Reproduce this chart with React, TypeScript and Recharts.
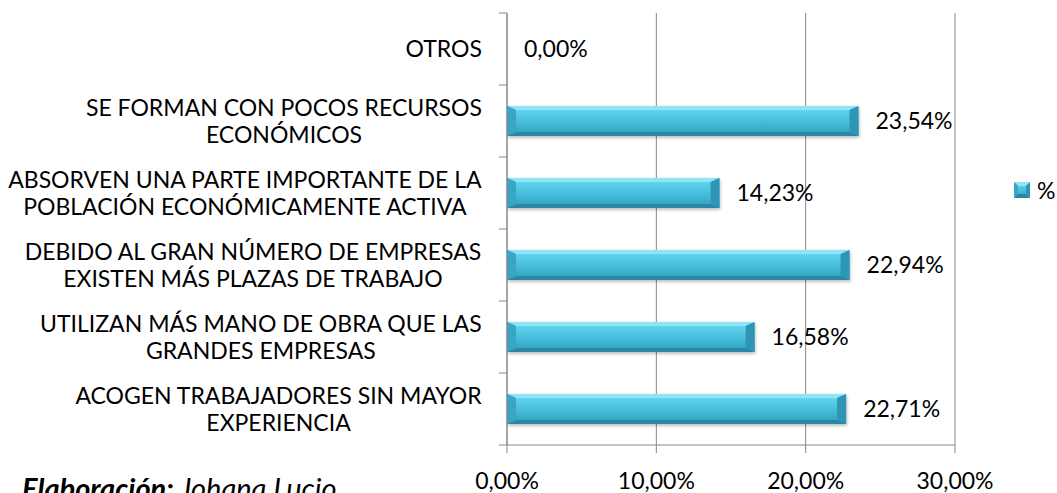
import React from "react";
import { BarChart, Bar, XAxis, YAxis, CartesianGrid, LabelList, Legend } from "recharts";

const categories = [
  "OTROS",
  "SE FORMAN CON POCOS RECURSOS\nECONÓMICOS",
  "ABSORVEN UNA PARTE IMPORTANTE DE LA\nPOBLACIÓN ECONÓMICAMENTE ACTIVA",
  "DEBIDO AL GRAN NÚMERO DE EMPRESAS\nEXISTEN MÁS PLAZAS DE TRABAJO",
  "UTILIZAN MÁS MANO DE OBRA QUE LAS\nGRANDES EMPRESAS",
  "ACOGEN TRABAJADORES SIN MAYOR\nEXPERIENCIA",
];
const values = [0, 23.54, 14.23, 22.94, 16.58, 22.71];
const xTicks = [0, 10, 20, 30];
const seriesName = "%";

const data = categories.map((c, i) => ({ name: c, value: values[i] }));

const FONT = "Lato, 'Open Sans', sans-serif";
const FS = 23;
const AXIS = "#878787";

const pct = (v: any) => Number(v).toFixed(2).replace(".", ",") + "%";

let ctx: CanvasRenderingContext2D | null = null;
function textWidth(s: string) {
  if (!ctx) ctx = document.createElement("canvas").getContext("2d");
  if (!ctx) return s.length * 12;
  ctx.font = `${FS}px Lato`;
  return ctx.measureText(s).width;
}

// category label centred as a block, plus tick marks at the band edges
function CategoryTick(props: any) {
  const { x, y, payload, index, visibleTicksCount } = props;
  const lines = String(payload.value).split("\n");
  const w = Math.max(...lines.map(textWidth));
  const cx = x - 25 - w / 2;
  const half = payload.offset ?? 36;
  const lh = 27;
  const y0 = y - ((lines.length - 1) * lh) / 2;
  return (
    <g>
      <line x1={x - 8} x2={x} y1={y - half} y2={y - half} stroke={AXIS} />
      {index === visibleTicksCount - 1 && (
        <line x1={x - 8} x2={x} y1={y + half} y2={y + half} stroke={AXIS} />
      )}
      <text textAnchor="middle" fontFamily={FONT} fontSize={FS} fill="#000">
        {lines.map((l, i) => (
          <tspan key={i} x={cx} y={y0 + i * lh} dy="0.36em">
            {l}
          </tspan>
        ))}
      </text>
    </g>
  );
}

function bevel(x: number, y: number, w: number, h: number, bx: number, by: number, fill: string) {
  return (
    <>
      <rect x={x} y={y} width={w} height={h} fill={fill} />
      <polygon points={`${x},${y} ${x + w},${y} ${x + w - bx},${y + by} ${x + bx},${y + by}`} fill="#8fe4f6" />
      <polygon points={`${x},${y + h} ${x + w},${y + h} ${x + w - bx},${y + h - by} ${x + bx},${y + h - by}`} fill="#2a86a3" />
      <polygon points={`${x},${y} ${x + bx},${y + by} ${x + bx},${y + h - by} ${x},${y + h}`} fill="#39a5c3" />
      <polygon points={`${x + w},${y} ${x + w - bx},${y + by} ${x + w - bx},${y + h - by} ${x + w},${y + h}`} fill="#2e95b4" />
    </>
  );
}

function BevelBar(props: any) {
  const { x, y, width, height } = props;
  if (!width || width <= 0) return null;
  const bx = Math.min(9, width / 2);
  return (
    <g>
      <rect x={x + 1} y={y + 2} width={width} height={height} fill="#000" opacity={0.25} filter="url(#shadowBlur)" />
      {bevel(x, y, width, height, bx, 4, "url(#barFill)")}
    </g>
  );
}

function LegendContent() {
  return (
    <div style={{ display: "flex", alignItems: "center", fontFamily: FONT, fontSize: FS, lineHeight: "26px" }}>
      <svg width={17} height={17} style={{ marginRight: 6 }}>
        {bevel(0, 0, 16, 16, 4, 4, "url(#barFill)")}
      </svg>
      <span>{seriesName}</span>
    </div>
  );
}

export default function App() {
  return (
    <div style={{ position: "fixed", left: 0, top: 0, width: 1057, height: 493, background: "#fff", overflow: "hidden" }}>
      <svg width={0} height={0} style={{ position: "absolute" }}>
        <defs>
          <linearGradient id="barFill" x1="0" y1="0" x2="0" y2="1">
            <stop offset="0" stopColor="#70daf2" />
            <stop offset="0.45" stopColor="#4bc2e0" />
            <stop offset="1" stopColor="#2f9ebe" />
          </linearGradient>
          <filter id="shadowBlur" x="-5%" y="-50%" width="110%" height="200%">
            <feGaussianBlur stdDeviation="1.5" />
          </filter>
        </defs>
      </svg>
      <BarChart
        width={1057}
        height={493}
        data={data}
        layout="vertical"
        margin={{ top: 13, right: 102, bottom: 8, left: 0 }}
        barCategoryGap="29%"
      >
        <CartesianGrid horizontal={false} stroke={AXIS} />
        <XAxis
          type="number"
          domain={[0, 30]}
          ticks={xTicks}
          tickFormatter={pct}
          height={40}
          stroke={AXIS}
          tickSize={8}
          tickMargin={20}
          tick={{ fill: "#000", fontSize: FS, fontFamily: FONT }}
        />
        <YAxis
          type="category"
          dataKey="name"
          width={507}
          stroke={AXIS}
          tickLine={false}
          tickSize={0}
          tickMargin={0}
          interval={0}
          tick={<CategoryTick />}
        />
        <Legend
          layout="vertical"
          align="center"
          verticalAlign="middle"
          wrapperStyle={{ left: 1014, top: 177, width: 43 }}
          content={() => <LegendContent />}
        />
        <Bar dataKey="value" name={seriesName} shape={<BevelBar />} isAnimationActive={false}>
          <LabelList
            dataKey="value"
            position="right"
            offset={17}
            formatter={pct}
            fill="#000"
            fontSize={FS}
            fontFamily={FONT}
          />
        </Bar>
      </BarChart>
      <svg width={1057} height={493} style={{ position: "absolute", left: 0, top: 0, pointerEvents: "none" }}>
        <text x={22} y={499} fontFamily={FONT} fontSize={29} fontStyle="italic" fill="#000">
          <tspan fontWeight="bold">Elaboración:</tspan>
          <tspan> Johana Lucio</tspan>
        </text>
      </svg>
    </div>
  );
}
